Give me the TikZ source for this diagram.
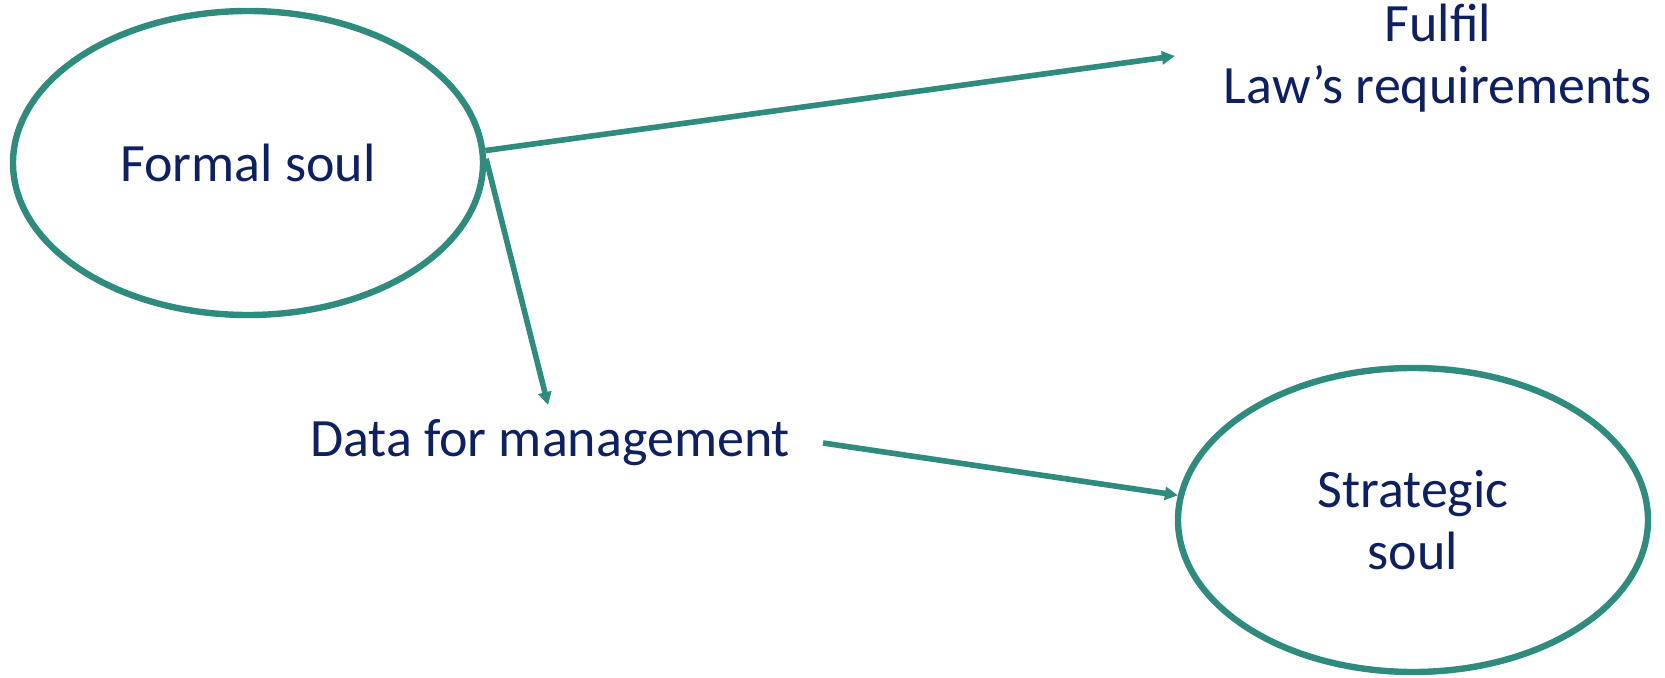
\documentclass[tikz,border=0pt]{standalone}
\usepackage{fontspec}
\setmainfont{Carlito}
\usepackage{tikz}
\usetikzlibrary{
    positioning,      % For placing nodes relative to each other
    shapes.geometric, % For the ellipse nodes
    arrows.meta       % For modern arrow tips (e.g., Triangle)
}
\definecolor{soulteal}{HTML}{2E8B7E}
\definecolor{textnavy}{HTML}{0F2060}

\begin{document}
\begin{tikzpicture}[
    % Pixel-like coordinates: x to the right, y downwards
    x=0.5pt, y=-0.5pt,
    % Style for the two oval "souls"
    soul_style/.style={
        ellipse,
        draw=soulteal,
        line width=3.2pt,
        minimum width=235pt,
        minimum height=152pt,
        align=center
    },
    % Style for the plain text labels
    label_style/.style={
        text=textnavy,
        font=\fontsize{27}{31}\selectfont,
        align=center
    },
    % Style for the connecting arrows
    arrow_tip/.style={
        draw=soulteal,
        line width=2.8pt,
        -{Triangle[length=6.5pt, width=6.5pt]}
    }
]
    \useasboundingbox (0,0) rectangle (1665,678);

    % 1. The two ovals.
    \node[soul_style, label_style] (formal) at (248,163) {Formal soul};
    \node[soul_style, label_style] (strategic) at (1413,520) {Strategic\\soul};

    % 2. The free text labels.
    \node[label_style] (fulfil) at (1438,58) {Fulfil\\Law’s requirements};
    \node[label_style] (data) at (550,443) {Data for management};

    % 3. The arrows between them.
    \draw[arrow_tip] (formal.3) -- ([xshift=-21pt, yshift=1pt]fulfil.west);
    \draw[arrow_tip, shorten >=4pt] (formal.1) -- (data.north);
    \draw[arrow_tip] ([xshift=13pt]data.east) -- (strategic.174);

\end{tikzpicture}
\end{document}
